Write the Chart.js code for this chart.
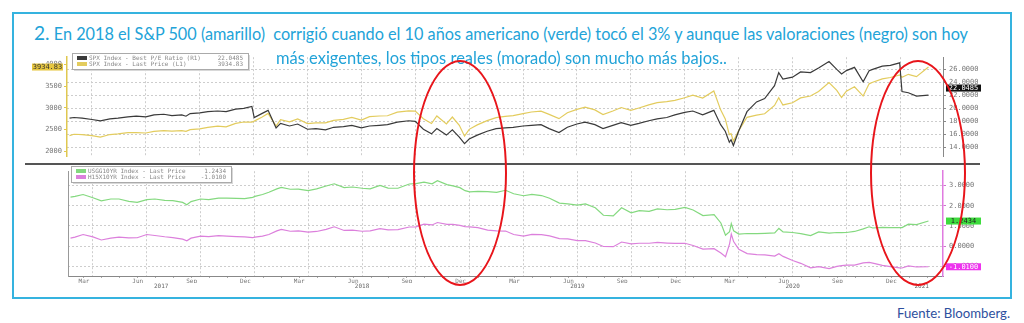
<!DOCTYPE html>
<html>
<head>
<meta charset="utf-8">
<script src="https://cdn.jsdelivr.net/npm/chart.js@4.4.1/dist/chart.umd.min.js"></script>
<style>
  html, body { margin: 0; padding: 0; background: #fff; }
  body { width: 1024px; height: 323px; position: relative; overflow: hidden; font-family: Lato, "Open Sans", sans-serif; }
  #frame { position: absolute; left: 12px; top: 12px; width: 1000px; height: 287px; box-sizing: border-box; border: 2px solid #35b3df; }
  .title { position: absolute; white-space: nowrap; color: #22a3d8; font-size: 17px; line-height: 20px; transform-origin: 0 50%; z-index: 3; }
  .title .num { font-size: 20px; }
  #t1 { left: 34px; top: 22px; }
  #t2 { left: 276px; top: 48px; }
  #src { position: absolute; top: 305px; left: 897px; font-size: 13px; line-height: 16px; color: #2d4f9e; white-space: nowrap; transform-origin: 0 50%; }
  canvas { position: absolute; left: 0; }
  #cTop { top: 50px; }
  #cBot { top: 164px; }
  #divider { position: absolute; left: 25px; top: 163px; width: 955px; height: 2px; background: #555; z-index: 2; }
  .ring { position: absolute; box-sizing: border-box; border: 2.5px solid #e8151b; border-radius: 50%; z-index: 4; }
</style>
</head>
<body>
<div id="frame"></div>
<canvas id="cTop" width="1024" height="114"></canvas>
<canvas id="cBot" width="1024" height="131"></canvas>
<div id="divider"></div>
<div id="t1" class="title"><span class="num">2.</span> En 2018 el S&amp;P 500 (amarillo)&nbsp; corrigió cuando el 10 años americano (verde) tocó el 3% y aunque las valoraciones (negro) son hoy</div>
<div id="t2" class="title">más exigentes, los tipos reales (morado) son mucho más bajos..</div>
<div class="ring" style="left:413px;top:60px;width:94px;height:226px"></div>
<div class="ring" style="left:870px;top:60px;width:96px;height:226px"></div>
<div id="src">Fuente: Bloomberg.</div>
<script>
const dates = [
  '2017-02-22','2017-03-01','2017-03-15','2017-04-01','2017-04-15','2017-05-01','2017-05-15','2017-06-01','2017-06-15','2017-07-01',
  '2017-07-15','2017-08-01','2017-08-15','2017-09-01','2017-09-08','2017-09-15','2017-10-01','2017-10-15','2017-11-01','2017-11-15',
  '2017-12-01','2017-12-15','2017-12-29','2018-01-02','2018-01-15','2018-01-26','2018-02-08','2018-02-15','2018-03-01','2018-03-15',
  '2018-04-01','2018-04-15','2018-05-01','2018-05-15','2018-06-01','2018-06-15','2018-07-01','2018-07-15','2018-08-01','2018-08-15',
  '2018-09-01','2018-09-20','2018-10-01','2018-10-15','2018-10-29','2018-11-07','2018-11-23','2018-12-03','2018-12-15','2018-12-24',
  '2019-01-01','2019-01-15','2019-02-01','2019-02-15','2019-03-01','2019-03-15','2019-04-01','2019-04-15','2019-05-01','2019-05-15',
  '2019-06-01','2019-06-15','2019-07-01','2019-07-15','2019-08-01','2019-08-15','2019-09-01','2019-09-15','2019-10-01','2019-10-15',
  '2019-11-01','2019-11-15','2019-12-01','2019-12-15','2020-01-01','2020-01-15','2020-02-01','2020-02-19','2020-03-01','2020-03-09',
  '2020-03-16','2020-03-19','2020-03-23','2020-04-01','2020-04-15','2020-05-01','2020-05-15','2020-06-01','2020-06-08','2020-06-15',
  '2020-07-01','2020-07-15','2020-08-01','2020-08-15','2020-09-02','2020-09-15','2020-09-23','2020-10-01','2020-10-15','2020-10-30',
  '2020-11-09','2020-11-15','2020-12-01','2020-12-15','2020-12-31','2021-01-04','2021-01-15','2021-01-29','2021-02-17'
];

// S&P 500 (amarillo, eje izq.)
const spx = [
  2362, 2395, 2385, 2362, 2329, 2388, 2402, 2430, 2433, 2423,
  2459, 2476, 2464, 2476, 2461, 2500, 2519, 2553, 2579, 2565,
  2642, 2675, 2674, 2695, 2786, 2872, 2581, 2731, 2677, 2747,
  2640, 2656, 2654, 2711, 2734, 2779, 2718, 2798, 2813, 2818,
  2901, 2930, 2924, 2750, 2641, 2813, 2633, 2790, 2600, 2351,
  2507, 2610, 2707, 2775, 2803, 2822, 2867, 2905, 2923, 2850,
  2752, 2886, 2964, 3014, 2953, 2847, 2926, 3007, 2940, 2995,
  3066, 3120, 3141, 3169, 3231, 3289, 3225, 3386, 2954, 2746,
  2386, 2409, 2237, 2471, 2783, 2831, 2863, 3055, 3232, 3066,
  3115, 3227, 3271, 3373, 3580, 3401, 3237, 3380, 3483, 3270,
  3550, 3585, 3662, 3694, 3756, 3700, 3768, 3714, 3934.83
];

// PER (negro, eje dcho.)
const pe = [
  18.5, 18.6, 18.5, 18.3, 18.1, 18.4, 18.5, 18.7, 18.8, 18.7,
  19.0, 19.1, 18.9, 19.0, 18.8, 19.2, 19.3, 19.5, 19.6, 19.5,
  19.9, 20.0, 20.3, 18.6, 19.2, 19.7, 17.0, 17.7, 17.3, 17.6,
  16.8, 16.9, 16.7, 17.1, 17.2, 17.4, 17.0, 17.3, 17.4, 17.5,
  17.9, 18.1, 18.0, 16.8, 16.1, 16.9, 15.9, 16.7, 15.6, 14.6,
  15.3, 15.9, 16.5, 16.9, 17.0, 17.1, 17.3, 17.4, 17.5, 16.9,
  16.3, 17.1, 17.6, 17.9, 17.5, 16.9, 17.4, 17.8, 17.4, 17.7,
  18.1, 18.4, 18.6, 19.0, 19.4, 19.6, 19.0, 19.7, 17.5, 16.5,
  14.8, 15.2, 14.3, 16.5, 19.5, 21.0, 21.5, 23.5, 25.5, 24.5,
  24.8, 25.6, 25.5, 26.2, 27.2, 26.0, 25.3, 25.8, 26.3, 24.1,
  25.8, 26.0, 26.5, 26.6, 27.0, 22.6, 22.4, 21.9, 22.0485
];

// 10 años EEUU (verde)
const us10y = [
  2.42, 2.46, 2.55, 2.39, 2.24, 2.33, 2.33, 2.21, 2.16, 2.30,
  2.33, 2.26, 2.25, 2.16, 2.05, 2.20, 2.33, 2.30, 2.37, 2.37,
  2.36, 2.35, 2.41, 2.46, 2.55, 2.66, 2.83, 2.90, 2.81, 2.82,
  2.74, 2.83, 2.97, 3.08, 2.89, 2.92, 2.86, 2.83, 3.00, 2.87,
  2.86, 3.07, 3.09, 3.16, 3.08, 3.23, 3.04, 2.98, 2.89, 2.74,
  2.68, 2.71, 2.69, 2.66, 2.76, 2.59, 2.49, 2.56, 2.50, 2.37,
  2.13, 2.09, 2.03, 2.09, 1.90, 1.53, 1.50, 1.90, 1.65, 1.76,
  1.72, 1.84, 1.80, 1.82, 1.92, 1.79, 1.51, 1.56, 1.15, 0.54,
  0.72, 1.12, 0.76, 0.60, 0.63, 0.62, 0.64, 0.66, 0.88, 0.71,
  0.68, 0.62, 0.53, 0.71, 0.65, 0.68, 0.67, 0.68, 0.73, 0.86,
  0.96, 0.90, 0.93, 0.92, 0.92, 0.92, 1.09, 1.07, 1.2434
];

// 10 años real (morado)
const real10y = [
  0.40, 0.45, 0.58, 0.46, 0.31, 0.40, 0.45, 0.41, 0.42, 0.58,
  0.53, 0.47, 0.43, 0.35, 0.27, 0.40, 0.50, 0.48, 0.52, 0.50,
  0.48, 0.46, 0.43, 0.45, 0.50, 0.58, 0.76, 0.83, 0.74, 0.76,
  0.70, 0.73, 0.83, 0.96, 0.78, 0.80, 0.74, 0.76, 0.87, 0.81,
  0.82, 0.95, 0.96, 1.09, 1.05, 1.17, 1.08, 1.08, 1.03, 0.97,
  0.96, 0.92, 0.80, 0.76, 0.75, 0.58, 0.50, 0.59, 0.57, 0.51,
  0.38, 0.36, 0.28, 0.28, 0.16, -0.01, -0.02, 0.21, 0.12, 0.15,
  0.15, 0.19, 0.16, 0.14, 0.15, 0.04, -0.14, -0.12, -0.33, -0.51,
  0.12, 0.60, 0.23, -0.15, -0.36, -0.41, -0.42, -0.48, -0.37, -0.50,
  -0.70, -0.84, -1.06, -1.00, -1.10, -0.99, -0.95, -0.93, -0.93, -0.82,
  -0.79, -0.83, -0.94, -1.00, -1.06, -1.07, -0.97, -1.02, -1.01
];

const monthNames = ['Jan','Feb','Mar','Apr','May','Jun','Jul','Aug','Sep','Oct','Nov','Dec'];
const quarterMonths = [2, 5, 8, 11];
const yearLabels = ['2017','2018','2019','2020','2021'];
const spxTicks = [2000, 2500, 3000, 3500, 4000];
const peTicks = [14, 16, 18, 20, 22, 24, 26];
const rateTicks = [-1, 0, 1, 2, 3];

// eje x = meses desde ene-2017
const X_MIN = 1.61, X_MAX = 50.38;

function monthIdx(d) {
  const [y, m, day] = d.split('-').map(Number);
  const dim = new Date(y, m, 0).getDate();
  return (y - 2017) * 12 + (m - 1) + (day - 1) / dim;
}
const xs = dates.map(monthIdx);
const pts = arr => arr.map((v, i) => ({ x: xs[i], y: v }));

const range = (a, b, step) => { const out = []; for (let v = a; v <= b; v += step) out.push(v); return out; };
const quarterStarts = range(3, X_MAX, 3);
const monthMids = range(2.5, X_MAX, 1);
const yearCenters = yearLabels.map((_, i) => (Math.max(i * 12, X_MIN) + Math.min(i * 12 + 12, X_MAX)) / 2);

const MONO = 'DejaVu Sans Mono';
const GRID = '#cdcdcd';

// cajita de leyenda estilo Bloomberg
const boxLegend = {
  id: 'boxLegend',
  afterDraw(chart, args, opts) {
    const ctx = chart.ctx;
    const dsets = chart.data.datasets;
    const h = 4 + dsets.length * 6;
    ctx.save();
    ctx.fillStyle = '#d8d8d8';
    ctx.fillRect(opts.x + 2, opts.y + 2, opts.w, h);
    ctx.fillStyle = '#fff';
    ctx.fillRect(opts.x, opts.y, opts.w, h);
    ctx.strokeStyle = '#aaa';
    ctx.lineWidth = 1;
    ctx.strokeRect(opts.x + 0.5, opts.y + 0.5, opts.w, h);
    ctx.font = '6px "' + MONO + '"';
    ctx.textBaseline = 'middle';
    dsets.forEach((ds, i) => {
      const cy = opts.y + 5 + i * 6;
      ctx.fillStyle = ds.borderColor;
      ctx.fillRect(opts.x + 5, cy - 2, 10, 4);
      ctx.fillStyle = '#888';
      ctx.textAlign = 'left';
      ctx.fillText(ds.label, opts.x + 17, cy);
      ctx.textAlign = 'right';
      ctx.fillText(ds.data[ds.data.length - 1].y.toFixed(ds.digits), opts.x + opts.w - 5, cy);
    });
    ctx.restore();
  }
};

// etiqueta del último valor en el eje
const lastTags = {
  id: 'lastTags',
  afterDraw(chart) {
    const ctx = chart.ctx;
    ctx.save();
    ctx.font = '7px "' + MONO + '"';
    ctx.textBaseline = 'middle';
    ctx.textAlign = 'center';
    chart.data.datasets.forEach(ds => {
      if (!ds.tag) return;
      const v = ds.data[ds.data.length - 1].y;
      const y = chart.scales[ds.yAxisID].getPixelForValue(v) + (ds.tag.shift || 0);
      const left = ds.tag.side === 'left';
      const x0 = left ? 32 : chart.chartArea.right + 3;
      const w = left ? 31 : 35;
      ctx.fillStyle = ds.tag.bg;
      ctx.fillRect(x0, y - 3.5, w, 7);
      ctx.fillStyle = ds.tag.fg;
      ctx.fillText(v.toFixed(ds.digits), x0 + w / 2, y + 0.5);
    });
    ctx.restore();
  }
};

const lineDefaults = { pointRadius: 0, tension: 0, borderWidth: 1.2, xAxisID: 'x' };
const tickFont = { family: MONO, size: 7 };

new Chart(document.getElementById('cTop'), {
  type: 'line',
  data: {
    datasets: [
      { ...lineDefaults, label: 'SPX Index - Best P/E Ratio (R1)', data: pts(pe), yAxisID: 'yPe',
        borderColor: '#3a3a3a', digits: 4, tag: { side: 'right', bg: '#111', fg: '#fff', shift: -7 } },
      { ...lineDefaults, label: 'SPX Index - Last Price (L1)', data: pts(spx), yAxisID: 'ySpx',
        borderColor: '#e3cc5e', digits: 2, tag: { side: 'left', bg: '#e6c640', fg: '#333' } }
    ]
  },
  options: {
    responsive: false,
    animation: false,
    layout: { padding: { top: 7, bottom: 0, left: 0, right: 0 } },
    plugins: {
      legend: { display: false },
      tooltip: { enabled: false },
      boxLegend: { x: 72, y: 3, w: 176 }
    },
    scales: {
      x: {
        type: 'linear', min: X_MIN, max: X_MAX,
        afterBuildTicks: s => { s.ticks = quarterStarts.map(v => ({ value: v })); },
        ticks: { display: false },
        grid: { color: GRID, drawTicks: false },
        border: { display: false, dash: [2, 2] },
        afterFit: s => { s.height = 0; }
      },
      ySpx: {
        type: 'linear', position: 'left', min: 1878, max: 4160,
        afterBuildTicks: s => { s.ticks = spxTicks.map(v => ({ value: v })); },
        ticks: { color: '#777', font: tickFont, padding: 2, callback: v => String(v) },
        grid: { drawOnChartArea: false, color: '#e0c850', tickLength: 3 },
        border: { color: '#e0c850', width: 1.5 },
        afterFit: s => { s.width = 67; }
      },
      yPe: {
        type: 'linear', position: 'right', min: 12.57, max: 27.86,
        afterBuildTicks: s => { s.ticks = peTicks.map(v => ({ value: v })); },
        ticks: { color: '#777', font: tickFont, padding: 3, callback: v => v.toFixed(4) },
        grid: { color: GRID, tickLength: 3, tickColor: '#888' },
        border: { color: '#888', dash: [2, 2] },
        afterFit: s => { s.width = 81; }
      }
    }
  },
  plugins: [boxLegend, lastTags]
});

new Chart(document.getElementById('cBot'), {
  type: 'line',
  data: {
    datasets: [
      { ...lineDefaults, label: 'USGG10YR Index - Last Price', data: pts(us10y), yAxisID: 'yRate',
        borderColor: '#84d97f', digits: 4, tag: { side: 'right', bg: '#3ddc3d', fg: '#222' } },
      { ...lineDefaults, label: 'H15X10YR Index - Last Price', data: pts(real10y), yAxisID: 'yRate',
        borderColor: '#dc80dc', digits: 4, tag: { side: 'right', bg: '#ee33ee', fg: '#fff' } }
    ]
  },
  options: {
    responsive: false,
    animation: false,
    layout: { padding: { top: 0, left: 0, right: 0, bottom: 2 } },
    plugins: {
      legend: { display: false },
      tooltip: { enabled: false },
      boxLegend: { x: 71, y: 2, w: 160 }
    },
    scales: {
      x: {
        type: 'linear', position: 'bottom', min: X_MIN, max: X_MAX, weight: 0,
        afterBuildTicks: s => { s.ticks = monthMids.map(v => ({ value: v })); },
        ticks: {
          autoSkip: false, maxRotation: 0, color: '#777', font: { family: MONO, size: 6 }, padding: 0,
          callback: v => { const m = Math.floor(v) % 12; return quarterMonths.includes(m) ? monthNames[m] : ''; }
        },
        grid: { drawOnChartArea: false, tickLength: 2, color: '#aaa' },
        border: { color: '#888' },
        afterFit: s => { s.height = 7; }
      },
      xYear: {
        type: 'linear', position: 'bottom', min: X_MIN, max: X_MAX, weight: 1,
        afterBuildTicks: s => { s.ticks = yearCenters.map(v => ({ value: v })); },
        ticks: { autoSkip: false, maxRotation: 0, color: '#666', font: { family: MONO, size: 6 }, padding: 0,
          callback: (v, i) => yearLabels[i] },
        grid: { display: false, drawTicks: false, tickLength: 0 },
        border: { display: false },
        afterFit: s => { s.height = 10; }
      },
      xg: {
        type: 'linear', position: 'bottom', min: X_MIN, max: X_MAX, weight: -1,
        afterBuildTicks: s => { s.ticks = quarterStarts.map(v => ({ value: v })); },
        ticks: { display: false },
        grid: { color: GRID, drawTicks: false },
        border: { display: false, dash: [2, 2] },
        afterFit: s => { s.height = 0; }
      },
      yL: {
        type: 'linear', position: 'left', min: 0, max: 1,
        ticks: { display: false },
        grid: { display: false },
        border: { color: '#999' },
        afterFit: s => { s.width = 68; }
      },
      yRate: {
        type: 'linear', position: 'right', min: -1.465, max: 3.70,
        afterBuildTicks: s => { s.ticks = rateTicks.map(v => ({ value: v })); },
        ticks: { color: '#777', font: tickFont, padding: 3, callback: v => v.toFixed(4) },
        grid: { color: GRID, tickLength: 3, tickColor: '#d070d0' },
        border: { color: '#e07be0', width: 1.5, dash: [2, 2] },
        afterFit: s => { s.width = 81; }
      }
    }
  },
  plugins: [boxLegend, lastTags]
});

// ajustar el ancho del texto al de la imagen
function fit(id, w) {
  const el = document.getElementById(id);
  el.style.transform = 'none';
  const r = el.getBoundingClientRect().width;
  el.style.transform = 'scaleX(' + (w / r) + ')';
}
function fitAll() { fit('t1', 934); fit('t2', 451); fit('src', 113); }
fitAll();
document.fonts.ready.then(fitAll);
</script>
</body>
</html>
